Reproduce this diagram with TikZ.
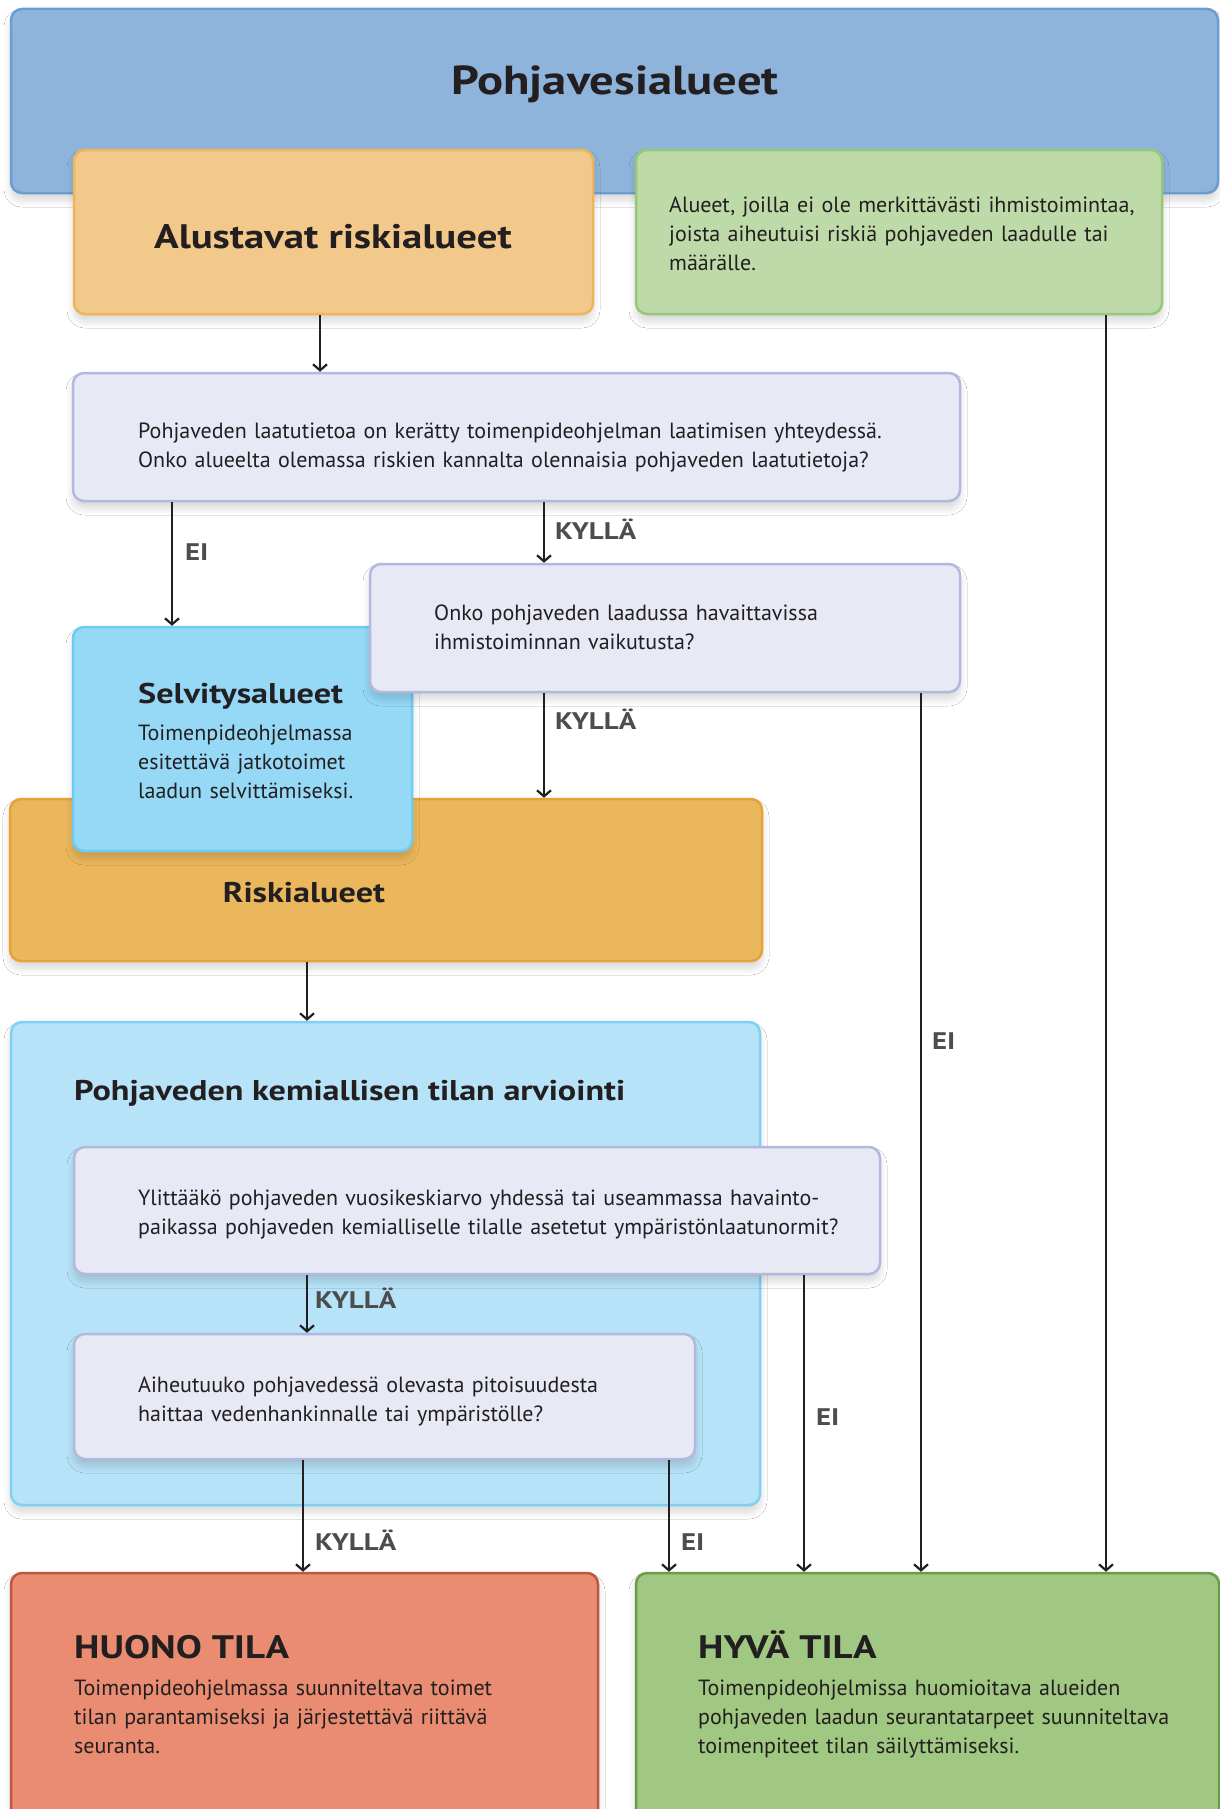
\documentclass[tikz,border=0pt]{standalone}
\usepackage{fontspec}
\setmainfont{PT Sans}
\newfontfamily\headfont[FakeStretch=1.2]{PT Sans Bold}
\usetikzlibrary{arrows.meta,shadows.blur}

\definecolor{ink}{HTML}{231F20}
\definecolor{lblgrey}{HTML}{4D4D4D}
\definecolor{topfill}{HTML}{8EB4DC}
\definecolor{topline}{HTML}{6C9DD2}
\definecolor{alufill}{HTML}{F2C98A}
\definecolor{aluline}{HTML}{EDB65A}
\definecolor{grnfill}{HTML}{BEDAA8}
\definecolor{grnline}{HTML}{96C879}
\definecolor{qfill}{HTML}{E7E9F5}
\definecolor{qline}{HTML}{B3B8DF}
\definecolor{selfill}{HTML}{95D9F7}
\definecolor{selline}{HTML}{6CCCF2}
\definecolor{riskfill}{HTML}{EBB75C}
\definecolor{riskline}{HTML}{E6A237}
\definecolor{bigfill}{HTML}{B7E3F8}
\definecolor{bigline}{HTML}{80D0F3}
\definecolor{badfill}{HTML}{E98C72}
\definecolor{badline}{HTML}{BF5740}
\definecolor{goodfill}{HTML}{A0C882}
\definecolor{goodline}{HTML}{6A9B4C}

\tikzset{
  box/.style={draw, rounded corners=11pt, line width=2.5pt, inner sep=0pt,
    blur shadow={shadow xshift=0pt, shadow yshift=-7pt,
      shadow blur radius=7pt, shadow blur steps=12, shadow opacity=16}},
  body/.style={anchor=base west, inner sep=0pt, align=left, text width=900pt,
    font=\fontsize{22}{29}\selectfont, text=ink},
  headline/.style={anchor=base west, inner sep=0pt,
    font=\fontsize{28.5}{34}\headfont, text=ink},
  answer/.style={anchor=base west, inner sep=0pt,
    font=\fontsize{24}{28}\headfont, text=lblgrey},
  arr/.style={draw=ink, line width=2.2pt,
    -{Straight Barb[length=6pt,width=14pt]}},
}

\begin{document}
\begin{tikzpicture}[x=1pt,y=-1pt]
\useasboundingbox (0,0) rectangle (1220,1809);
\clip (0,0) rectangle (1220,1809);
\fill[white] (0,0) rectangle (1220,1809);

% connector columns
\coordinate (cAlu) at (320,0);
\coordinate (cGrn) at (1106,0);
\coordinate (cEi1) at (172,0);
\coordinate (cKy1) at (544,0);
\coordinate (cEi2) at (921,0);
\coordinate (cRisk) at (307,0);
\coordinate (cEi3) at (804,0);
\coordinate (cKy4) at (303,0);
\coordinate (cEi4) at (669,0);

% --- top level ---
\node[box, fill=topfill, draw=topline, minimum width=1207pt, minimum height=184pt] (top) at (614.5,101) {};
\node[anchor=base, inner sep=0pt, font=\fontsize{40.5}{48}\headfont, text=ink] (topT) at (615,95) {Pohjavesialueet};

\node[box, fill=alufill, draw=aluline, minimum width=519pt, minimum height=164pt] (alu) at (333.5,232) {};
\node[anchor=base, inner sep=0pt, font=\fontsize{34}{40}\headfont, text=ink] (aluT) at (333,248) {Alustavat riskialueet};

\node[box, fill=grnfill, draw=grnline, minimum width=526pt, minimum height=164pt] (grn) at (899,232) {};
\node[body] (grnT) at (669,212) {Alueet, joilla ei ole merkittävästi ihmistoimintaa,\\joista aiheutuisi riskiä pohjaveden laadulle tai\\määrälle.};

% --- first question ---
\node[box, fill=qfill, draw=qline, minimum width=887pt, minimum height=128pt] (q1) at (516.5,437) {};
\node[body] (q1T) at (138,438) {Pohjaveden laatutietoa on kerätty toimenpideohjelman laatimisen yhteydessä.\\Onko alueelta olemassa riskien kannalta olennaisia pohjaveden laatutietoja?};

% --- risk areas and investigation areas ---
\node[box, fill=riskfill, draw=riskline, minimum width=752pt, minimum height=162pt] (risk) at (386,880) {};
\node[anchor=base, inner sep=0pt, font=\fontsize{28.5}{34}\headfont, text=ink] (riskT) at (304,902) {Riskialueet};

\node[box, fill=selfill, draw=selline, minimum width=339pt, minimum height=224pt] (sel) at (242.5,739) {};
\node[headline] (selT) at (138,703) {Selvitysalueet};
\node[body] (selB) at (138,740) {Toimenpideohjelmassa\\esitettävä jatkotoimet\\laadun selvittämiseksi.};

\node[box, fill=qfill, draw=qline, minimum width=590pt, minimum height=128pt] (q2) at (665,628) {};
\node[body] (q2T) at (434,620) {Onko pohjaveden laadussa havaittavissa\\ihmistoiminnan vaikutusta?};

% --- chemical status assessment ---
\node[box, fill=bigfill, draw=bigline, minimum width=749pt, minimum height=483pt] (big) at (385.5,1263.5) {};
\node[headline] (bigT) at (74,1100) {Pohjaveden kemiallisen tilan arviointi};

\node[box, fill=qfill, draw=qline, minimum width=806pt, minimum height=127pt] (q3) at (477,1210.5) {};
\node[body] (q3T) at (138,1205) {Ylittääkö pohjaveden vuosikeskiarvo yhdessä tai useammassa havainto-\\paikassa pohjaveden kemialliselle tilalle asetetut ympäristönlaatunormit?};

\node[box, fill=qfill, draw=qline, minimum width=621pt, minimum height=125pt] (q4) at (384.5,1396.5) {};
\node[body] (q4T) at (138,1392) {Aiheutuuko pohjavedessä olevasta pitoisuudesta\\haittaa vedenhankinnalle tai ympäristölle?};

% --- outcomes ---
\node[box, fill=badfill, draw=badline, minimum width=587pt, minimum height=257pt] (bad) at (304.5,1701.5) {};
\node[anchor=base west, inner sep=0pt, font=\fontsize{32.5}{38}\headfont, text=ink] (badT) at (74,1658) {HUONO TILA};
\node[body] (badB) at (74,1695) {Toimenpideohjelmassa suunniteltava toimet\\tilan parantamiseksi ja järjestettävä riittävä\\seuranta.};

\node[box, fill=goodfill, draw=goodline, minimum width=583pt, minimum height=257pt] (good) at (927.5,1701.5) {};
\node[anchor=base west, inner sep=0pt, font=\fontsize{32.5}{38}\headfont, text=ink] (goodT) at (698,1658) {HYVÄ TILA};
\node[body] (goodB) at (698,1695) {Toimenpideohjelmissa huomioitava alueiden\\pohjaveden laadun seurantatarpeet suunniteltava\\toimenpiteet tilan säilyttämiseksi.};

% --- connectors ---
\draw[arr] (cAlu |- alu.south) -- (cAlu |- q1.north);
\draw[arr] (cGrn |- grn.south) -- (cGrn |- good.north);
\draw[arr] (cEi1 |- q1.south) -- (cEi1 |- sel.north);
\draw[arr] (cKy1 |- q1.south) -- (cKy1 |- q2.north);
\draw[arr] (cKy1 |- q2.south) -- (cKy1 |- risk.north);
\draw[arr] (cEi2 |- q2.south) -- (cEi2 |- good.north);
\draw[arr] (cRisk |- risk.south) -- (cRisk |- big.north);
\draw[arr] (cRisk |- q3.south) -- (cRisk |- q4.north);
\draw[arr] (cEi3 |- q3.south) -- (cEi3 |- good.north);
\draw[arr] (cKy4 |- q4.south) -- (cKy4 |- bad.north);
\draw[arr] (cEi4 |- q4.south) -- (cEi4 |- good.north);

% --- answer labels ---
\node[answer] (a1) at (185,560) {EI};
\node[answer] (a2) at (555,539) {KYLLÄ};
\node[answer] (a3) at (555,729) {KYLLÄ};
\node[answer] (a4) at (932,1049) {EI};
\node[answer] (a5) at (315,1308) {KYLLÄ};
\node[answer] (a6) at (816,1425) {EI};
\node[answer] (a7) at (315,1550) {KYLLÄ};
\node[answer] (a8) at (681,1550) {EI};
\end{tikzpicture}
\end{document}
